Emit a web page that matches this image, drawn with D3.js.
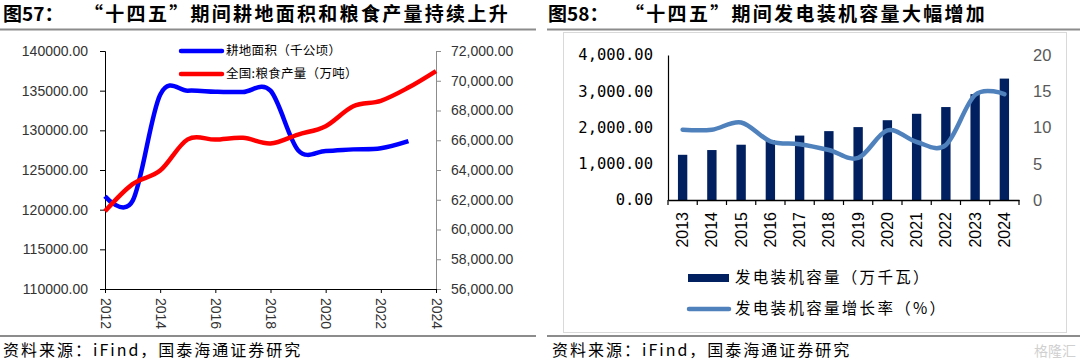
<!DOCTYPE html>
<html>
<head>
<meta charset="utf-8">
<script src="https://cdn.jsdelivr.net/npm/d3@7"></script>
<style>
  body { margin: 0; background: #fff; }
  svg { display: block; }
  .cn { font-family: "Noto Sans CJK SC", sans-serif; }
  .num { font-family: "Liberation Sans", Arial, sans-serif; }
</style>
</head>
<body>
<svg id="tela" width="1080" height="361"></svg>
<script>
// Dados do gráfico 57 (耕地面积 / 粮食产量)
const anosEsq = [2012, 2013, 2014, 2015, 2016, 2017, 2018, 2019, 2020, 2021, 2022, 2023, 2024];
const areaAnos = [2012, 2013, 2014, 2015, 2016, 2017, 2018, 2019, 2020, 2021, 2022, 2023];
const areaCultivo = [121700, 121100, 134500, 135000, 134870, 134830, 135000, 127500, 127400, 127600, 127750, 128650];
const producaoGraos = [61223, 63048, 63965, 66060, 66044, 66161, 65789, 66384, 66949, 68285, 68653, 69541, 70650];
const ticksEsq = [110000, 115000, 120000, 125000, 130000, 135000, 140000];
const ticksDir = [56000, 58000, 60000, 62000, 64000, 66000, 68000, 70000, 72000];
const ticksAnos = [2012, 2014, 2016, 2018, 2020, 2022, 2024];

// Dados do gráfico 58 (发电装机容量)
const anosDir = ['2013', '2014', '2015', '2016', '2017', '2018', '2019', '2020', '2021', '2022', '2023', '2024'];
const capacidade = [1247, 1378, 1525, 1651, 1777, 1900, 2011, 2201, 2378, 2564, 2920, 3349];
const crescimento = [9.7, 9.7, 10.7, 8.1, 7.7, 6.9, 5.8, 9.6, 8.0, 7.6, 14.5, 14.6];
const ticksCap = [0, 1000, 2000, 3000, 4000];
const ticksTaxa = [0, 5, 10, 15, 20];

const svg = d3.select('#tela');

// Títulos (número da figura + texto) e linhas de separação
const titulos = [
  { x: 3, x2: 84, num: '图57：', texto: '“十四五”期间耕地面积和粮食产量持续上升' },
  { x: 548, x2: 625, num: '图58：', texto: '“十四五”期间发电装机容量大幅增加' }
];
titulos.forEach(t => {
  const tx = svg.append('text').attr('class', 'cn').attr('y', 21)
    .attr('font-size', 19).attr('font-weight', 700);
  tx.append('tspan').attr('x', t.x).text(t.num);
  tx.append('tspan').attr('x', t.x2).attr('letter-spacing', 2.3).text(t.texto);
});

[[0, 536], [547, 1080]].forEach(([a, b]) => {
  svg.append('line').attr('x1', a).attr('x2', b).attr('y1', 29.5).attr('y2', 29.5)
    .attr('stroke', '#8c8c8c').attr('stroke-width', 2);
  svg.append('line').attr('x1', a).attr('x2', b).attr('y1', 336).attr('y2', 336)
    .attr('stroke', '#8c8c8c').attr('stroke-width', 2);
});

svg.append('text').attr('class', 'cn').attr('x', 3).attr('y', 356)
  .attr('font-size', 16).attr('letter-spacing', 2).text('资料来源：iFind，国泰海通证券研究');
svg.append('text').attr('class', 'cn').attr('x', 552).attr('y', 356)
  .attr('font-size', 16).attr('letter-spacing', 2).text('资料来源：iFind，国泰海通证券研究');
svg.append('text').attr('class', 'cn').attr('x', 1076).attr('y', 356).attr('text-anchor', 'end')
  .attr('font-size', 14).attr('fill', '#d0d0d0').text('格隆汇');

// ---------------- Gráfico 57 ----------------
const xE = d3.scaleLinear().domain([2012, 2024]).range([105, 436]);
const yE = d3.scaleLinear().domain([110000, 140000]).range([289, 51]);
const yD = d3.scaleLinear().domain([56000, 72000]).range([289, 51]);

const eixoE = svg.append('g').attr('transform', 'translate(105,0)')
  .call(d3.axisLeft(yE).tickValues(ticksEsq).tickFormat(d3.format('.2f')).tickSize(5).tickPadding(12));
eixoE.selectAll('text').attr('class', 'num').attr('font-size', 14).attr('fill', '#333');

const eixoD = svg.append('g').attr('transform', 'translate(436,0)')
  .call(d3.axisRight(yD).tickValues(ticksDir).tickFormat(d3.format(',.2f')).tickSize(5).tickPadding(10));
eixoD.selectAll('text').attr('class', 'num').attr('font-size', 14).attr('fill', '#333');
eixoD.selectAll('path, line').attr('stroke', '#8c8c8c');

const eixoX = svg.append('g').attr('transform', 'translate(0,289)')
  .call(d3.axisBottom(xE).tickValues(ticksAnos).tickFormat(d3.format('d')).tickSize(4));
eixoX.selectAll('text').attr('class', 'num').attr('font-size', 14).attr('fill', '#333')
  .attr('transform', 'rotate(90)').attr('x', 9).attr('y', 0).attr('dy', '0.35em')
  .style('text-anchor', 'start');

const curva = d3.curveCardinal.tension(0);

svg.append('path')
  .datum(areaAnos.map((a, i) => [a, areaCultivo[i]]))
  .attr('fill', 'none').attr('stroke', '#0000ff').attr('stroke-width', 4.5)
  .attr('d', d3.line().x(d => xE(d[0])).y(d => yE(d[1])).curve(curva));

svg.append('path')
  .datum(anosEsq.map((a, i) => [a, producaoGraos[i]]))
  .attr('fill', 'none').attr('stroke', '#ff0000').attr('stroke-width', 4.5)
  .attr('d', d3.line().x(d => xE(d[0])).y(d => yD(d[1])).curve(curva));

// Legenda do gráfico 57
const legE = [
  { cor: '#0000ff', texto: '耕地面积（千公顷）', y: 51 },
  { cor: '#ff0000', texto: '全国:粮食产量（万吨）', y: 74 }
];
legE.forEach(l => {
  svg.append('line').attr('x1', 181).attr('x2', 222).attr('y1', l.y).attr('y2', l.y)
    .attr('stroke', l.cor).attr('stroke-width', 4.5).attr('stroke-linecap', 'round');
  svg.append('text').attr('class', 'cn').attr('x', 226).attr('y', l.y).attr('dy', '0.35em')
    .attr('font-size', 12.5).attr('letter-spacing', 0.3).text(l.texto);
});

// ---------------- Gráfico 58 ----------------
svg.append('rect').attr('x', 563.5).attr('y', 32.5).attr('width', 503).attr('height', 300)
  .attr('fill', 'none').attr('stroke', '#d9d9d9').attr('stroke-width', 1);

const xB = d3.scaleBand().domain(anosDir).range([668, 1019]).paddingInner(0.68).paddingOuter(0.34);
const yC = d3.scaleLinear().domain([0, 4000]).range([200, 55]);
const yT = d3.scaleLinear().domain([0, 20]).range([200, 55]);

svg.append('g').selectAll('rect').data(anosDir).enter().append('rect')
  .attr('x', d => xB(d)).attr('width', xB.bandwidth())
  .attr('y', (d, i) => yC(capacidade[i])).attr('height', (d, i) => yC(0) - yC(capacidade[i]))
  .attr('fill', '#002060');

const eixoC = svg.append('g').attr('transform', 'translate(668,0)')
  .call(d3.axisLeft(yC).tickValues(ticksCap).tickFormat(d3.format(',.2f')).tickSize(0).tickPadding(15));
eixoC.selectAll('text').attr('font-family', '"DejaVu Sans Mono", monospace')
  .attr('font-size', 15.5).attr('fill', '#000');
eixoC.select('.domain').attr('stroke', '#000').attr('stroke-width', 1.2);

const eixoT = svg.append('g').attr('transform', 'translate(1019,0)')
  .call(d3.axisRight(yT).tickValues(ticksTaxa).tickSize(0).tickPadding(14));
eixoT.select('.domain').remove();
eixoT.selectAll('text').attr('class', 'num').attr('font-size', 16.5).attr('fill', '#595959');

const eixoB = svg.append('g').attr('transform', 'translate(0,200)')
  .call(d3.axisBottom(xB).tickSize(0).tickPadding(0));
eixoB.select('.domain').attr('stroke', '#000').attr('stroke-width', 1.5);
eixoB.selectAll('text').attr('class', 'num').attr('font-size', 16).attr('fill', '#000')
  .attr('transform', 'rotate(-90)').attr('x', -12).attr('y', 0).attr('dy', '0.35em')
  .style('text-anchor', 'end');

// marcas entre as categorias
const limites = anosDir.map(a => xB(a) + xB.bandwidth() / 2 - xB.step() / 2).concat([1019]);
svg.append('g').selectAll('line').data(limites).enter().append('line')
  .attr('x1', d => d).attr('x2', d => d).attr('y1', 200).attr('y2', 205)
  .attr('stroke', '#000').attr('stroke-width', 1.2);

svg.append('path')
  .datum(anosDir.map((a, i) => [a, crescimento[i]]))
  .attr('fill', 'none').attr('stroke', '#4f81bd').attr('stroke-width', 4.5)
  .attr('stroke-linecap', 'round')
  .attr('d', d3.line().x(d => xB(d[0]) + xB.bandwidth() / 2).y(d => yT(d[1])).curve(curva));

// Legenda do gráfico 58
svg.append('rect').attr('x', 688).attr('y', 274).attr('width', 41).attr('height', 8).attr('fill', '#002060');
svg.append('text').attr('class', 'cn').attr('x', 735).attr('y', 278).attr('dy', '0.35em')
  .attr('font-size', 15.5).attr('letter-spacing', 2.3).text('发电装机容量（万千瓦）');
svg.append('line').attr('x1', 689).attr('x2', 729).attr('y1', 309).attr('y2', 309)
  .attr('stroke', '#4f81bd').attr('stroke-width', 4.5).attr('stroke-linecap', 'round');
svg.append('text').attr('class', 'cn').attr('x', 735).attr('y', 309).attr('dy', '0.35em')
  .attr('font-size', 15.5).attr('letter-spacing', 2.3).text('发电装机容量增长率（%）');
</script>
</body>
</html>
